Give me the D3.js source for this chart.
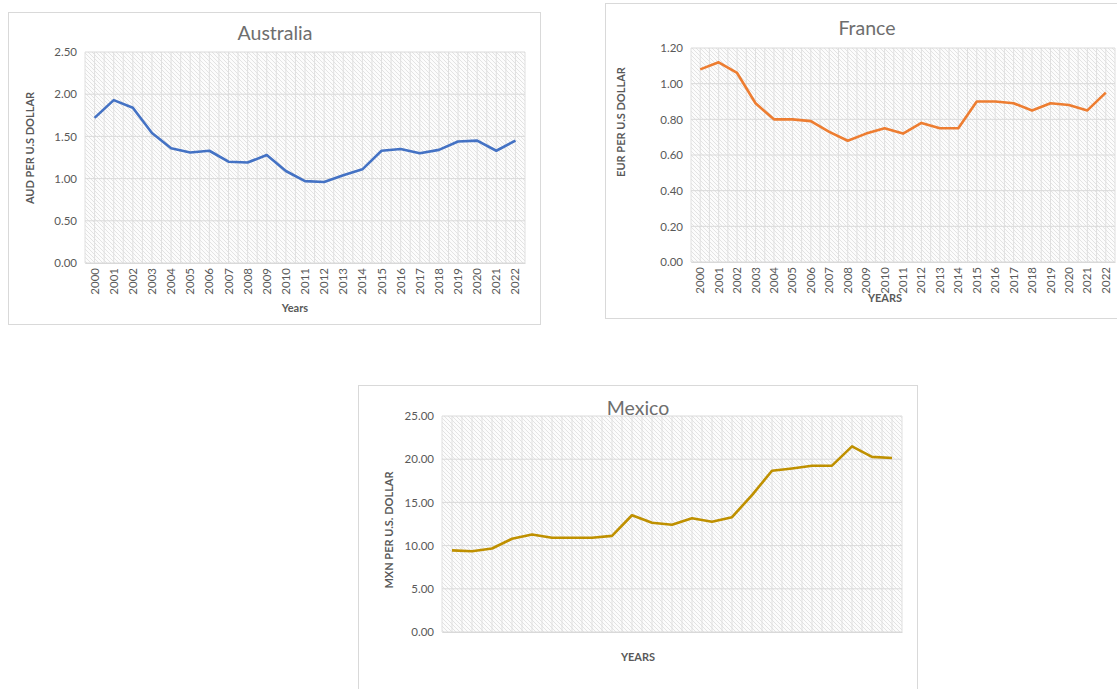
<!DOCTYPE html>
<html><head><meta charset="utf-8">
<script src="https://cdn.jsdelivr.net/npm/d3@7"></script>
<style>
html,body{margin:0;padding:0;background:#fff;}
svg text{font-family:Lato,"Open Sans",sans-serif;}
</style></head>
<body>
<svg id="c" width="1117" height="689"></svg>
<script>
const years = ["2000","2001","2002","2003","2004","2005","2006","2007","2008","2009","2010","2011","2012","2013","2014","2015","2016","2017","2018","2019","2020","2021","2022"];
const audValues = [1.72,1.93,1.84,1.54,1.36,1.31,1.33,1.20,1.19,1.28,1.09,0.97,0.96,1.04,1.11,1.33,1.35,1.30,1.34,1.44,1.45,1.33,1.45];
const eurValues = [1.08,1.12,1.06,0.89,0.80,0.80,0.79,0.73,0.68,0.72,0.75,0.72,0.78,0.75,0.75,0.90,0.90,0.89,0.85,0.89,0.88,0.85,0.95];
const mxnValues = [9.45,9.34,9.66,10.79,11.29,10.90,10.90,10.90,11.13,13.51,12.64,12.42,13.17,12.77,13.29,15.85,18.66,18.93,19.24,19.26,21.49,20.27,20.13];
const audTicks = [0,0.5,1,1.5,2,2.5];
const eurTicks = [0,0.2,0.4,0.6,0.8,1.0,1.2];
const mxnTicks = [0,5,10,15,20,25];

const svg = d3.select("#c");
const defs = svg.append("defs");
const pat = defs.append("pattern").attr("id","hatch").attr("width",4).attr("height",4)
  .attr("patternUnits","userSpaceOnUse");
pat.append("rect").attr("width",4).attr("height",4).attr("fill","#fcfcfc");
pat.append("path").attr("d","M0,0L4,4M-1,3L1,5M3,-1L5,1").attr("stroke","#e0e0e0").attr("stroke-width",0.9);

function drawChart(o){
  const g = svg.append("g");
  g.append("rect").attr("x",o.box[0]+0.5).attr("y",o.box[1]+0.5).attr("width",o.box[2]).attr("height",o.box[3])
    .attr("fill","#fff").attr("stroke","#d9d9d9").attr("stroke-width",1);
  const x = d3.scaleBand().domain(years).range([o.left,o.right]).padding(0);
  const y = d3.scaleLinear().domain([0,o.max]).range([o.bottom,o.top]);
  g.append("rect").attr("x",o.left).attr("y",o.top).attr("width",o.right-o.left).attr("height",o.bottom-o.top)
    .attr("fill","url(#hatch)");
  const halfs = d3.range(0, years.length*2+1);
  g.append("g").selectAll("line").data(halfs).join("line")
    .attr("x1",d=>o.left + d*x.bandwidth()/2).attr("x2",d=>o.left + d*x.bandwidth()/2)
    .attr("y1",o.top).attr("y2",o.bottom).attr("stroke","#e0e0e0").attr("stroke-width",1);
  g.append("g").selectAll("line").data(o.ticks).join("line")
    .attr("x1",o.left).attr("x2",o.right).attr("y1",d=>y(d)).attr("y2",d=>y(d))
    .attr("stroke","#dadada").attr("stroke-width",1);
  const ya = d3.axisLeft(y).tickValues(o.ticks).tickFormat(d=>d.toFixed(2)).tickSize(0).tickPadding(8);
  const yg = g.append("g").attr("transform",`translate(${o.left},0)`).call(ya);
  yg.select(".domain").remove();
  yg.selectAll("text").attr("fill","#595959").style("font-size","11.5px");
  const xa = d3.axisBottom(x).tickSize(0).tickPadding(0);
  const xg = g.append("g").attr("transform",`translate(0,${o.bottom})`).call(xa);
  xg.select(".domain").attr("stroke","#d9d9d9");
  if(o.xlabels){
    xg.selectAll("text").attr("fill","#595959").style("font-size","11.5px")
      .attr("text-anchor","end").attr("dy","0.35em")
      .attr("transform","translate(0,5) rotate(-90)").attr("x",0).attr("y",0);
  } else {
    xg.selectAll("text").remove();
  }
  const line = d3.line().x((d,i)=>x(years[i])+x.bandwidth()/2).y(d=>y(d));
  g.append("path").datum(o.values).attr("d",line).attr("fill","none")
    .attr("stroke",o.color).attr("stroke-width",2.6).attr("stroke-linejoin","round");
  g.append("text").attr("x",o.titleX).attr("y",o.titleY).attr("text-anchor","middle")
    .attr("fill","#6e6e6e").style("font-size","19.5px").style("font-weight","400").text(o.title);
  g.append("text").attr("x",o.xtX).attr("y",o.xtY).attr("text-anchor","middle")
    .attr("fill","#595959").style("font-size","11px").style("font-weight","bold").text(o.xTitle);
  g.append("text").attr("transform",`translate(${o.ytX},${o.ytY}) rotate(-90)`).attr("text-anchor","middle")
    .attr("fill","#595959").style("font-size","11px").style("font-weight","bold").text(o.yTitle);
}

drawChart({box:[8,12,532,312], left:85, right:525, top:52, bottom:263, max:2.5, ticks:audTicks,
  values:audValues, color:"#4472C4", title:"Australia", titleX:275, titleY:40,
  xTitle:"Years", xtX:295, xtY:312, yTitle:"AUD PER U.S DOLLAR", ytX:34, ytY:148, xlabels:true});
drawChart({box:[605,3,520,315], left:691, right:1115, top:48, bottom:262, max:1.2, ticks:eurTicks,
  values:eurValues, color:"#ED7D31", title:"France", titleX:867, titleY:35,
  xTitle:"YEARS", xtX:885, xtY:302, yTitle:"EUR PER U.S DOLLAR", ytX:625, ytY:122, xlabels:true});
drawChart({box:[358,385,559,310], left:442, right:902, top:416, bottom:632, max:25, ticks:mxnTicks,
  values:mxnValues, color:"#BF9000", title:"Mexico", titleX:638, titleY:415,
  xTitle:"YEARS", xtX:638, xtY:661, yTitle:"MXN PER U.S. DOLLAR", ytX:393, ytY:530, xlabels:false});
</script>
</body></html>
